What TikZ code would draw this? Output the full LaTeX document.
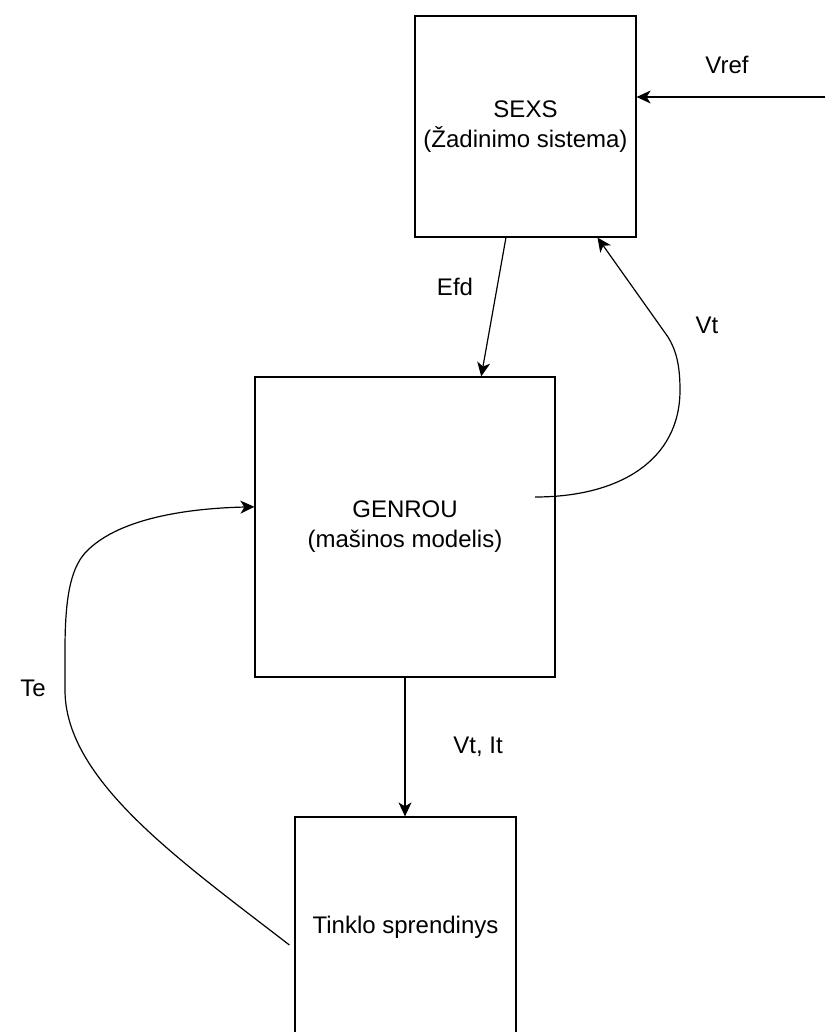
\documentclass[tikz,border=0pt]{standalone}
\usepackage{fontspec}
\setmainfont{Liberation Sans}
\usetikzlibrary{arrows.meta,calc}

\tikzset{
  block/.style={draw=black, line width=0.6pt, inner sep=0pt, align=center,
                font=\fontsize{12}{15}\selectfont},
  sig/.style={draw=black, line width=0.6pt,
              -{Stealth[length=7pt, width=6.5pt, inset=2pt]}},
  lbl/.style={font=\fontsize{12}{15}\selectfont, inner sep=0pt}
}

\begin{document}
\begin{tikzpicture}[x=0.5pt, y=-0.5pt]
  \clip (0,0) rectangle (825,1032);

  % blocks
  \node[block, minimum width=110.5pt, minimum height=110.5pt] (sexs) at (525.5,126.5)
    {SEXS\\(Žadinimo sistema)};
  \node[block, minimum width=150pt, minimum height=150pt] (genrou) at (405,527)
    {GENROU\\(mašinos modelis)};
  \node[block, minimum width=110.5pt, minimum height=110.5pt] (tinklo) at (405.5,927.5)
    {Tinklo sprendinys};

  % reference voltage input
  \coordinate (vin) at (825,97);
  \draw[sig] (vin) -- (vin -| sexs.east);
  \node[lbl] (lvref) at (727,65) {Vref};

  % field voltage
  \draw[sig] ($(sexs.south west)!0.412!(sexs.south east)$)
          -- ($(genrou.north west)!0.753!(genrou.north east)$);
  \node[lbl] (lefd) at (455,287) {Efd};

  % terminal voltage feedback
  \coordinate (vtstart) at ($(genrou.center)+(130,-30)$);
  \draw[sig] (vtstart) .. controls +(85,0) and (680,460) .. (680,390)
             .. controls (680,365) and (676,350) .. (668,337)
             -- ($(sexs.south west)!0.824!(sexs.south east)$);
  \node[lbl] (lvt) at (707,325) {Vt};

  % machine to network
  \draw[sig] (genrou.south) -- (genrou.south |- tinklo.north);
  \node[lbl] (lvtit) at (478,747) {Vt, It};

  % electrical torque back to machine
  \coordinate (testart) at ($(tinklo.west)+(-5,17.5)$);
  \draw[sig] (testart) .. controls +(-110,-85) and (65,780) .. (65,690)
             -- (65,650) .. controls (65,600) and (70,570) .. (85,553)
             .. controls (120,515) and (200,508)
             .. ($(genrou.north west)!0.433!(genrou.south west)$);
  \node[lbl] (lte) at (33,688) {Te};
\end{tikzpicture}
\end{document}
